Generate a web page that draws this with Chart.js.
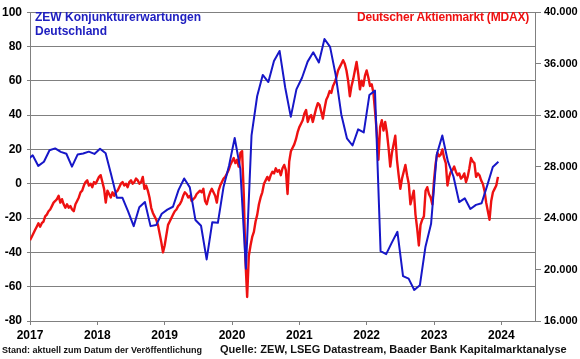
<!DOCTYPE html>
<html><head><meta charset="utf-8">
<script src="https://cdn.jsdelivr.net/npm/chart.js@4.4.1/dist/chart.umd.min.js"></script>
<style>
html,body{margin:0;padding:0;background:#fff;}
#wrap{position:relative;width:580px;height:359px;overflow:hidden;}
canvas{position:absolute;left:0;top:0;}
.t{position:absolute;font-family:"Liberation Sans",Arial,sans-serif;font-weight:bold;white-space:nowrap;}
</style></head><body>
<div id="wrap">
<canvas id="c" width="580" height="359"></canvas>
<div class="t" style="left:35px;top:10px;font-size:12px;line-height:14px;color:#2020c0">ZEW Konjunkturerwartungen<br>Deutschland</div>
<div class="t" style="right:51px;top:10px;font-size:12px;line-height:14px;color:#ee1111;letter-spacing:-0.2px">Deutscher Aktienmarkt (MDAX)</div>
<div class="t" style="left:2px;top:345px;font-size:9px;line-height:11px;color:#111">Stand: aktuell zum Datum der Veröffentlichung</div>
<div class="t" style="left:220px;top:343px;font-size:11px;line-height:13px;color:#111">Quelle: ZEW, LSEG Datastream, Baader Bank Kapitalmarktanalyse</div>
</div>
<script>
// ZEW economic sentiment, Germany (monthly, survey month)
const zewMonths = [
 "2016-12",
 "2017-01","2017-02","2017-03","2017-04","2017-05","2017-06","2017-07","2017-08","2017-09","2017-10","2017-11","2017-12",
 "2018-01","2018-02","2018-03","2018-04","2018-05","2018-06","2018-07","2018-08","2018-09","2018-10","2018-11","2018-12",
 "2019-01","2019-02","2019-03","2019-04","2019-05","2019-06","2019-07","2019-08","2019-09","2019-10","2019-11","2019-12",
 "2020-01","2020-02","2020-03","2020-04","2020-05","2020-06","2020-07","2020-08","2020-09","2020-10","2020-11","2020-12",
 "2021-01","2021-02","2021-03","2021-04","2021-05","2021-06","2021-07","2021-08","2021-09","2021-10","2021-11","2021-12",
 "2022-01","2022-02","2022-03","2022-04","2022-05","2022-06","2022-07","2022-08","2022-09","2022-10","2022-11","2022-12",
 "2023-01","2023-02","2023-03","2023-04","2023-05","2023-06","2023-07","2023-08","2023-09","2023-10","2023-11","2023-12"
];
const zewValues = [
 13.8,
 16.6,10.4,12.8,19.5,20.6,18.6,17.5,10.0,17.0,17.6,18.7,17.4,
 20.4,17.8,5.1,-8.2,-8.2,-16.1,-24.7,-13.7,-10.6,-24.7,-24.1,-17.5,
 -15.1,-13.4,-3.6,3.1,-2.1,-21.1,-24.5,-44.1,-22.5,-22.8,-2.1,10.7,
 26.7,8.7,-49.5,28.2,51.0,63.4,59.3,71.5,77.4,56.1,39.0,55.0,
 61.8,71.2,76.6,70.7,84.4,79.8,63.3,40.4,26.5,22.3,31.7,29.9,
 51.7,54.3,-39.3,-41.0,-34.3,-28.0,-53.8,-55.3,-61.9,-59.2,-36.7,-23.3,
 16.9,28.1,13.0,4.1,-10.7,-8.5,-14.7,-12.3,-11.4,-1.1,9.8,12.8
];

// MDAX index level, sampled every 1/40 year from the start of 2017
const mdaxStartYear = 2017;
const mdaxSamplesPerYear = 40;
const mdaxValues = [
 // 2017
 22270,22530,22800,23070,23330,23600,23330,23600,23730,24130,24270,24530,24670,24930,25200,25330,25470,25730,25200,25470,
 25070,24800,25070,24800,24930,24670,24530,25070,25330,25600,26000,26130,26530,26800,26930,26530,26670,26400,26800,26670,
 // 2018
 26930,27200,27330,26800,26270,25200,26130,25870,25600,26000,25730,26000,26130,26400,26670,26800,26530,26670,26400,26800,
 26930,26670,26800,27070,26930,26670,26800,27200,26270,26530,26130,25600,24800,24400,24130,23870,23470,22800,22130,21330,
 // 2019
 21870,22670,23470,23730,24000,24270,24530,24670,24930,25070,25330,25730,26000,25870,25600,25730,25330,25470,25600,25870,
 26000,26130,26000,26270,25330,25070,25600,26000,26270,26000,25730,25200,26130,26530,26800,27070,27200,27470,27730,28130,
 // 2020
 28400,28670,28270,28530,28000,29070,29200,25870,20670,17870,21070,21870,22530,22930,23730,24270,25070,25600,26000,26670,
 26930,27200,26930,27330,27600,27470,27870,27600,27730,27330,27870,28130,27730,25870,28400,29200,29470,29730,30130,30670,
 // 2021
 31070,31330,31600,32130,32400,31470,31870,32000,31470,32000,32530,32930,32800,32270,31730,32530,33200,33470,33870,33730,
 34270,34530,34930,35470,35730,36000,36270,36000,35470,34670,33470,34270,34800,35470,36130,35200,34000,34670,34270,35070,
 // 2022
 35470,34930,34270,34400,33730,32270,30670,28530,31070,31600,30800,31470,30670,29470,28000,29070,29730,30400,28530,27330,
 26270,27070,27600,28130,27330,26670,25070,25600,26130,24270,23200,21870,23470,23870,24130,26130,26400,25870,25600,25070,
 // 2023
 26930,28270,29070,28800,28930,29330,28670,28270,26530,27200,27600,27730,28000,27600,27330,27470,27070,27200,27470,26800,
 27200,27870,28670,28400,28270,27200,27470,27330,26930,26670,26130,25200,24530,23870,25330,26000,26270,26530,27200
];

const xTickYears = [2017,2018,2019,2020,2021,2022,2023,2024];
const leftTicks = [-80,-60,-40,-20,0,20,40,60,80,100];
const rightTicks = [16000,20000,24000,28000,32000,36000,40000];

const BLUE = '#1717c8';
const RED = '#ee1111';
const GRID = '#808080';
const FONT = '"Liberation Sans", Arial, sans-serif';

const zewPoints = zewMonths.map((m, i) => {
  const [yy, mm] = m.split('-').map(Number);
  return { x: yy + (mm - 1) / 12 + 0.04, y: zewValues[i] };
});
const mdaxPoints = mdaxValues.map((v, i) => ({ x: mdaxStartYear + i / mdaxSamplesPerYear, y: v }));

new Chart(document.getElementById('c'), {
  type: 'line',
  data: {
    datasets: [
      { label: 'ZEW Konjunkturerwartungen Deutschland', data: zewPoints, yAxisID: 'y',
        borderColor: BLUE, borderWidth: 2, pointRadius: 0, tension: 0, borderJoinStyle: 'round' },
      { label: 'Deutscher Aktienmarkt (MDAX)', data: mdaxPoints, yAxisID: 'y2',
        borderColor: RED, borderWidth: 2.4, pointRadius: 0, tension: 0, borderJoinStyle: 'round' }
    ]
  },
  options: {
    responsive: false, animation: false, devicePixelRatio: 1,
    layout: { padding: { top: 9, left: 0, right: 0, bottom: 0 } },
    plugins: { legend: { display: false }, tooltip: { enabled: false } },
    scales: {
      x: {
        type: 'linear', min: 2017, max: 2024.5,
        afterBuildTicks: s => { s.ticks = xTickYears.map(v => ({ value: v })); },
        afterFit: s => { s.height = 38; },
        grid: { drawOnChartArea: false, drawTicks: true, tickLength: 4, color: GRID },
        border: { color: GRID, width: 1 },
        ticks: { color: '#000', padding: 3, maxRotation: 0, autoSkip: false,
                 font: { family: FONT, size: 12, weight: 'bold' }, callback: v => String(v) }
      },
      y: {
        position: 'left', min: -80, max: 100,
        afterBuildTicks: s => { s.ticks = leftTicks.map(v => ({ value: v })); },
        afterFit: s => { s.width = 30; },
        grid: { color: GRID, lineWidth: 1, tickLength: 3 },
        border: { color: GRID, width: 1 },
        ticks: { color: '#000', padding: 5, font: { family: FONT, size: 12, weight: 'bold' }, callback: v => String(v) }
      },
      y2: {
        position: 'right', min: 16000, max: 40000,
        afterBuildTicks: s => { s.ticks = rightTicks.map(v => ({ value: v })); },
        afterFit: s => { s.width = 45; },
        grid: { drawOnChartArea: false, drawTicks: true, tickLength: 6, color: GRID },
        border: { color: GRID, width: 1 },
        ticks: { color: '#000', padding: 3, font: { family: FONT, size: 11, weight: 'bold' },
                 callback: v => (v / 1000) + '.000' }
      }
    }
  }
});
</script>
</body></html>
